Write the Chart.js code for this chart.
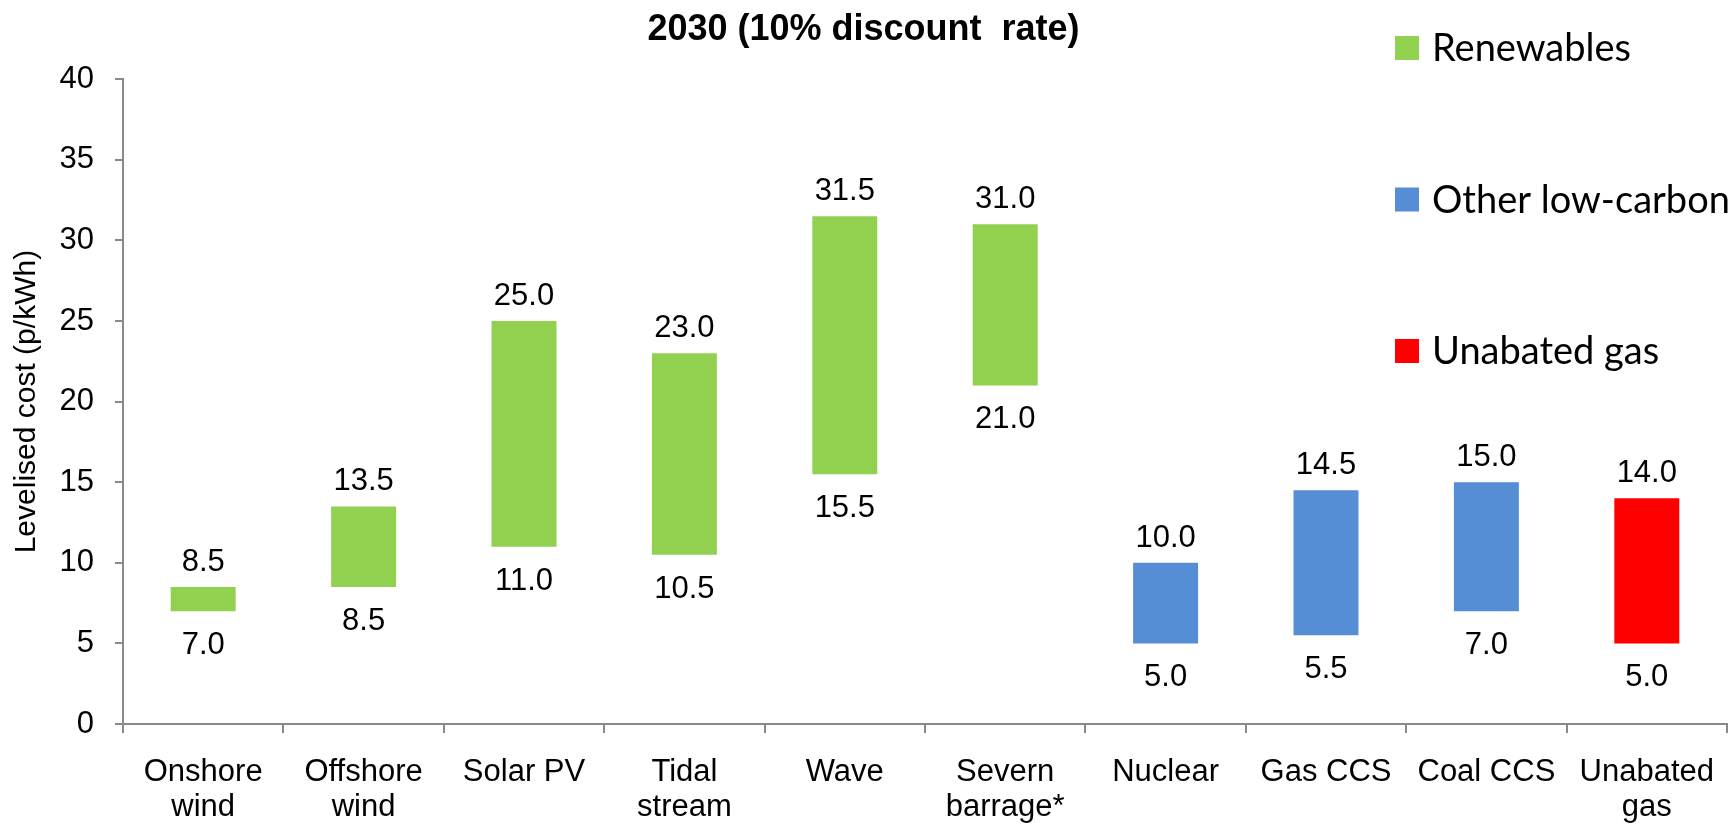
<!DOCTYPE html>
<html>
<head>
<meta charset="utf-8">
<title>Levelised cost 2030</title>
<script src="https://cdn.jsdelivr.net/npm/chart.js@4.4.1/dist/chart.umd.min.js"></script>
<style>
  html, body { margin: 0; padding: 0; background: #fff; }
  #wrap { width: 1733px; height: 824px; }
</style>
</head>
<body>
<div id="wrap"><canvas id="costChart" width="1733" height="824"></canvas></div>
<script>
// technologies along the x axis
const technologies = [
    ['Onshore', 'wind'], ['Offshore', 'wind'], 'Solar PV', ['Tidal', 'stream'], 'Wave',
    ['Severn', 'barrage*'], 'Nuclear', 'Gas CCS', 'Coal CCS', ['Unabated', 'gas']
];
// cost range, p/kWh
const lowCost = [7.0, 8.5, 11.0, 10.5, 15.5, 21.0, 5.0, 5.5, 7.0, 5.0];
const highCost = [8.5, 13.5, 25.0, 23.0, 31.5, 31.0, 10.0, 14.5, 15.0, 14.0];
// which group each technology belongs to (index into groupNames)
const techGroup = [0, 0, 0, 0, 0, 0, 1, 1, 1, 2];
const groupNames = ['Renewables', 'Other low-carbon', 'Unabated gas'];
const groupColors = ['#92D050', '#558ED5', '#FF0000'];
const yTicks = [0, 5, 10, 15, 20, 25, 30, 35, 40];

const axisGrey = '#8a8a8a';
const labelFont = { family: "'Liberation Sans', Arial, sans-serif", size: 31 };

// min / max printed above and below each bar
const rangeLabels = {
    id: 'rangeLabels',
    afterDatasetsDraw(chart) {
        const ctx = chart.ctx;
        const meta = chart.getDatasetMeta(0);
        ctx.save();
        ctx.font = labelFont.size + 'px ' + labelFont.family;
        ctx.fillStyle = '#000';
        ctx.textAlign = 'center';
        ctx.textBaseline = 'alphabetic';
        meta.data.forEach((bar, i) => {
            const top = chart.scales.y.getPixelForValue(highCost[i]);
            const bottom = chart.scales.y.getPixelForValue(lowCost[i]);
            ctx.fillText(highCost[i].toFixed(1), bar.x, top - 16);
            ctx.fillText(lowCost[i].toFixed(1), bar.x, bottom + 43);
        });
        ctx.restore();
    }
};

// group legend in the top right corner
const groupLegend = {
    id: 'groupLegend',
    afterDraw(chart) {
        const ctx = chart.ctx;
        ctx.save();
        ctx.font = "38px Lato, 'Open Sans', sans-serif";
        ctx.textBaseline = 'middle';
        ctx.textAlign = 'left';
        groupNames.forEach((name, i) => {
            const cy = 48 + i * 151.5;
            ctx.fillStyle = groupColors[i];
            ctx.fillRect(1395, cy - 12, 24, 24);
            ctx.fillStyle = '#000';
            ctx.fillText(name, 1432, cy + 1);
        });
        ctx.restore();
    }
};

const ctx = document.getElementById('costChart').getContext('2d');

new Chart(ctx, {
    type: 'bar',
    data: {
        labels: technologies,
        datasets: [{
            label: 'Levelised cost',
            data: lowCost.map((lo, i) => [lo, highCost[i]]),
            backgroundColor: techGroup.map(g => groupColors[g]),
            borderWidth: 0,
            categoryPercentage: 1,
            barPercentage: 0.405
        }]
    },
    options: {
        responsive: false,
        animation: false,
        layout: {
            padding: { left: 0, right: 6, top: 0, bottom: 0 }
        },
        plugins: {
            legend: { display: false },
            tooltip: { enabled: false },
            title: {
                display: true,
                text: '2030 (10% discount  rate)',
                color: '#000',
                font: { family: "'Liberation Sans', Arial, sans-serif", size: 36, weight: 'bold' },
                padding: { top: 8, bottom: 28 }
            }
        },
        scales: {
            x: {
                grid: {
                    offset: true,
                    drawOnChartArea: false,
                    color: axisGrey,
                    lineWidth: 2,
                    tickLength: 9
                },
                border: { color: axisGrey, width: 2 },
                ticks: {
                    color: '#000',
                    font: { ...labelFont, lineHeight: 1.13 },
                    padding: 22,
                    maxRotation: 0,
                    autoSkip: false
                },
                afterFit(scale) {
                    scale.height = 100;
                    scale.paddingRight = 0;
                },
                afterCalculateLabelRotation(scale) { scale.labelRotation = 0; }
            },
            y: {
                min: 0,
                max: 40,
                afterBuildTicks(scale) { scale.ticks = yTicks.map(v => ({ value: v })); },
                grid: {
                    drawOnChartArea: false,
                    color: axisGrey,
                    lineWidth: 2,
                    tickLength: 8
                },
                border: { color: axisGrey, width: 2 },
                ticks: {
                    color: '#000',
                    font: labelFont,
                    padding: 21
                },
                title: {
                    display: true,
                    text: 'Levelised cost (p/kWh)',
                    color: '#000',
                    font: { family: "'Liberation Sans', Arial, sans-serif", size: 30 },
                    padding: { top: 9, bottom: 0 }
                },
                afterFit(scale) { scale.width = 123; }
            }
        }
    },
    plugins: [rangeLabels, groupLegend]
});
</script>
</body>
</html>
